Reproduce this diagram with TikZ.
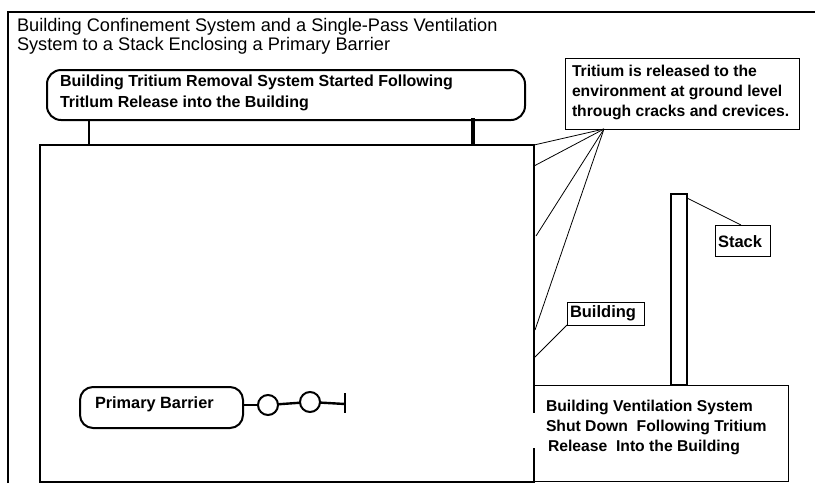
\documentclass[tikz,border=0pt]{standalone}
\usepackage{fontspec}
\setmainfont{Liberation Sans}
\usetikzlibrary{positioning}
\tikzset{
    x=1pt, y=-1pt,
    every node/.style={inner sep=0pt, outer sep=0pt},
    wall/.style={draw, line width=2pt}, % Frame and building lines
    lead/.style={draw, line width=0.8pt}, % Thin lines from the labels
    stub/.style={draw, line width=2.4pt},
    txt/.style={align=left, anchor=north west, font=\fontsize{18.2}{19}\selectfont},
    boldtxt/.style={txt, font=\fontsize{15.7}{20}\selectfont\bfseries},
    labelbox/.style={draw, line width=1pt, fill=white, anchor=north west},
    pill/.style={draw, line width=2pt, rounded corners=14pt, anchor=north west},
    valve/.style={draw, circle, line width=2pt, minimum size=20pt},
}

\begin{document}
\begin{tikzpicture}
    \useasboundingbox (0,0) rectangle (815,483);

    % Outer frame
    \coordinate (frameBL) at (8,483);
    \coordinate (frameTL) at (8,12);
    \coordinate (frameTR) at (815,12);
    \draw[wall] (frameBL) -- (frameTL) -- (frameTR);
    \node[txt] (title) at (17,18) {Building Confinement System and a Single-Pass Ventilation\\System to a Stack Enclosing a Primary Barrier};

    % Building and the boxes on it
    \node[wall, anchor=north west, minimum width=494pt, minimum height=337pt] (building) at (40,144.5) {};
    \node[pill, minimum width=478pt, minimum height=50pt] (removal) at (47,70) {};
    \node[boldtxt, font=\fontsize{16}{21}\selectfont\bfseries] (removalText) at (60,74.5) {Building Tritium Removal System Started Following\\Tritlum Release into the Building};
    \draw[stub] (89,120) -- (89,145);
    \draw[stub, line width=3.4pt] (473,118) -- (473,145);

    % Stack
    \node[wall, anchor=north west, minimum width=16pt, minimum height=191pt] (stack) at (671,194) {};

    % Ventilation box, open on part of its left side
    \node[labelbox, minimum width=254pt, minimum height=96pt] (vent) at (534,385) {};
    \node[boldtxt] (ventText) at (546,400) {Building Ventilation System\\Shut Down\ \ Following Tritium\\\hspace{2pt}Release\ \ Into the Building};
    \coordinate (gapA) at (534,413);
    \coordinate (gapB) at (534,448);
    \draw[white, line width=2.6pt] (gapA) -- (gapB);
    \draw[stub] (vent.north west) -- (gapA);
    \draw[stub] (gapB) -- (vent.south west);

    % Labels
    \node[labelbox, minimum width=234pt, minimum height=71pt] (release) at (565,58) {};
    \node[boldtxt] (releaseText) at (572,65.5) {Tritium is released to the\\environment at ground level\\through cracks and crevices.};
    \node[labelbox, minimum width=55pt, minimum height=31pt] (stacklabel) at (715,225) {};
    \node[boldtxt, anchor=west, font=\fontsize{16.5}{17}\selectfont\bfseries] (stackText) at (718,241.5) {Stack};
    \node[labelbox, minimum width=77pt, minimum height=23pt] (buildinglabel) at (567,302) {};
    \node[boldtxt, anchor=west, font=\fontsize{16.5}{17}\selectfont\bfseries] (buildingText) at (570,313) {Building};

    \coordinate (releaseFoot) at (604,129);
    \coordinate (crackA) at (534,145);
    \coordinate (crackB) at (534,166);
    \coordinate (crackC) at (536,236);
    \coordinate (crackD) at (535,330);
    \coordinate (buildingEnd) at (535,357);
    \coordinate (stackEnd) at (687,198);
    \coordinate (stackFoot) at (741,225);
    \path[lead]
        (releaseFoot) edge (crackA)
                      edge (crackB)
                      edge (crackC)
                      edge (crackD)
        (buildinglabel.south west) edge (buildingEnd)
        (stackEnd) edge (stackFoot);

    % Primary barrier and its line
    \node[pill, minimum width=163pt, minimum height=41pt, rounded corners=13pt] (barrier) at (80,387) {};
    \node[txt, anchor=west, font=\fontsize{16.3}{17}\selectfont\bfseries] (barrierText) at (95,404) {Primary Barrier};
    \node[valve] (valveA) at (268,405) {};
    \node[valve] (valveB) at (310,402) {};
    \coordinate (capTop) at (345,393);
    \coordinate (capMid) at (345,404);
    \coordinate (capBot) at (345,413);
    \draw[stub] (barrier.east |- valveA) -- (valveA);
    \draw[stub] (valveA) -- (valveB);
    \draw[stub] (valveB) -- (capMid);
    \draw[stub] (capTop) -- (capBot);
\end{tikzpicture}
\end{document}
